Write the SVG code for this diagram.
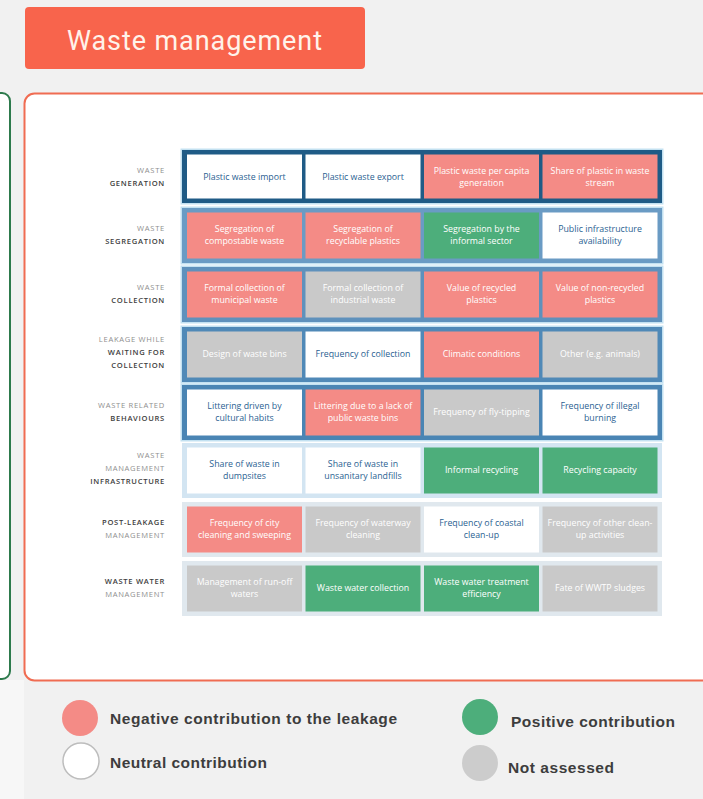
<svg xmlns="http://www.w3.org/2000/svg" width="703" height="799" viewBox="0 0 703 799">
<defs>
<style>
.ct{font-family:"Open Sans","Liberation Sans",sans-serif;font-size:8.8px;text-anchor:middle}
.tw{fill:#ffffff}
.tb{fill:#2b5f92}
.neg{fill:#f48b86}
.pos{fill:#4dae7b}
.na{fill:#c9c9c9}
.neu{fill:#ffffff}
.fd{fill:#1f5b86}
.halo{fill:#c3e1f1}
.lab{font-family:"Open Sans","Liberation Sans",sans-serif;font-size:7.6px;text-anchor:end;letter-spacing:0.7px}
.ll{fill:#8f8f8f}
.lb{fill:#3e3e3e;font-weight:600}
.leg{font-family:"Liberation Sans",Arial,sans-serif;font-size:15.5px;font-weight:bold;fill:#3d3d3d}
</style>
</defs>
<rect x="0" y="0" width="703" height="799" fill="#f1f1f1"/>
<rect x="0" y="680" width="24" height="119" fill="#f7f7f7"/>
<g id="title">
<rect x="25" y="7" width="340" height="62" rx="4" fill="#f8644c"/>
<text x="67" y="50" font-family="Roboto,'Liberation Sans',sans-serif" font-size="27" fill="#fff3ea" textLength="255">Waste management</text>
</g>
<g id="left-panel">
<rect x="-20" y="93" width="30" height="586" rx="8" fill="#ffffff" stroke="#2d7a4c" stroke-width="2"/>
</g>
<g id="panel">
<rect x="24.5" y="93.5" width="700" height="587" rx="10" fill="#ffffff" stroke="#f06c52" stroke-width="2"/>
</g>
<g id="connectors"/>
<!-- Row frames -->
<g id="frames">
<rect class="halo" x="180.5" y="148.5" width="483" height="56"/>
<rect class="fd" x="182" y="150" width="480" height="53"/>
<rect class="halo" x="180.5" y="206.5" width="483" height="58"/>
<rect x="182" y="208" width="480" height="55" fill="#6a9bc4"/>
<rect class="halo" x="180.5" y="265.5" width="483" height="58"/>
<rect x="182" y="267" width="480" height="55" fill="#5f91bc"/>
<rect class="halo" x="180.5" y="325.5" width="483" height="58"/>
<rect x="182" y="327" width="480" height="55" fill="#5089b7"/>
<rect class="halo" x="180.5" y="383.5" width="483" height="58"/>
<rect x="182" y="385" width="480" height="55" fill="#4a85b4"/>
<rect x="182" y="443" width="480" height="55" fill="#d3e5f2"/>
<rect x="182" y="502" width="480" height="55" fill="#e0e8ee"/>
<rect x="182" y="561" width="480" height="55" fill="#e0e8ee"/>
</g>
<!-- Row labels -->
<g id="label-generation"><text class="lab ll" x="165" y="172.5">WASTE</text><text class="lab lb" x="165" y="185.5">GENERATION</text></g>
<g id="label-segregation"><text class="lab ll" x="165" y="230.5">WASTE</text><text class="lab lb" x="165" y="243.5">SEGREGATION</text></g>
<g id="label-collection"><text class="lab ll" x="165" y="289.5">WASTE</text><text class="lab lb" x="165" y="302.5">COLLECTION</text></g>
<g id="label-waiting"><text class="lab ll" x="165" y="341.5">LEAKAGE WHILE</text><text class="lab lb" x="165" y="354.5">WAITING FOR</text><text class="lab lb" x="165" y="367.5">COLLECTION</text></g>
<g id="label-behaviours"><text class="lab ll" x="165" y="407.5">WASTE RELATED</text><text class="lab lb" x="165" y="420.5">BEHAVIOURS</text></g>
<g id="label-infrastructure"><text class="lab ll" x="165" y="457.5">WASTE</text><text class="lab ll" x="165" y="470.5">MANAGEMENT</text><text class="lab lb" x="165" y="483.5">INFRASTRUCTURE</text></g>
<g id="label-postleakage"><text class="lab lb" x="165" y="524.5">POST-LEAKAGE</text><text class="lab ll" x="165" y="537.5">MANAGEMENT</text></g>
<g id="label-wastewater"><text class="lab lb" x="165" y="583.5">WASTE WATER</text><text class="lab ll" x="165" y="596.5">MANAGEMENT</text></g>
<!-- Row 1 -->
<g id="c11"><rect class="neu" x="187" y="154.5" width="115" height="44"/><text class="ct tb" x="244.5" y="180">Plastic waste import</text></g>
<g id="c12"><rect class="neu" x="305.5" y="154.5" width="115" height="44"/><text class="ct tb" x="363" y="180">Plastic waste export</text></g>
<g id="c13"><rect class="neg" x="424" y="154.5" width="115" height="44"/><text class="ct tw" x="481.5" y="174">Plastic waste per capita</text><text class="ct tw" x="481.5" y="186">generation</text></g>
<g id="c14"><rect class="neg" x="542.5" y="154.5" width="115" height="44"/><text class="ct tw" x="600" y="174">Share of plastic in waste</text><text class="ct tw" x="600" y="186">stream</text></g>
<!-- Row 2 -->
<g id="c21"><rect class="neg" x="187" y="212.5" width="115" height="46"/><text class="ct tw" x="244.5" y="232">Segregation of</text><text class="ct tw" x="244.5" y="244">compostable waste</text></g>
<g id="c22"><rect class="neg" x="305.5" y="212.5" width="115" height="46"/><text class="ct tw" x="363" y="232">Segregation of</text><text class="ct tw" x="363" y="244">recyclable plastics</text></g>
<g id="c23"><rect class="pos" x="424" y="212.5" width="115" height="46"/><text class="ct tw" x="481.5" y="232">Segregation by the</text><text class="ct tw" x="481.5" y="244">informal sector</text></g>
<g id="c24"><rect class="neu" x="542.5" y="212.5" width="115" height="46"/><text class="ct tb" x="600" y="232">Public infrastructure</text><text class="ct tb" x="600" y="244">availability</text></g>
<!-- Row 3 -->
<g id="c31"><rect class="neg" x="187" y="271.5" width="115" height="46"/><text class="ct tw" x="244.5" y="291">Formal collection of</text><text class="ct tw" x="244.5" y="303">municipal waste</text></g>
<g id="c32"><rect class="na" x="305.5" y="271.5" width="115" height="46"/><text class="ct tw" x="363" y="291">Formal collection of</text><text class="ct tw" x="363" y="303">industrial waste</text></g>
<g id="c33"><rect class="neg" x="424" y="271.5" width="115" height="46"/><text class="ct tw" x="481.5" y="291">Value of recycled</text><text class="ct tw" x="481.5" y="303">plastics</text></g>
<g id="c34"><rect class="neg" x="542.5" y="271.5" width="115" height="46"/><text class="ct tw" x="600" y="291">Value of non-recycled</text><text class="ct tw" x="600" y="303">plastics</text></g>
<!-- Row 4 -->
<g id="c41"><rect class="na" x="187" y="331.5" width="115" height="46"/><text class="ct tw" x="244.5" y="357">Design of waste bins</text></g>
<g id="c42"><rect class="neu" x="305.5" y="331.5" width="115" height="46"/><text class="ct tb" x="363" y="357">Frequency of collection</text></g>
<g id="c43"><rect class="neg" x="424" y="331.5" width="115" height="46"/><text class="ct tw" x="481.5" y="357">Climatic conditions</text></g>
<g id="c44"><rect class="na" x="542.5" y="331.5" width="115" height="46"/><text class="ct tw" x="600" y="357">Other (e.g. animals)</text></g>
<!-- Row 5 -->
<g id="c51"><rect class="neu" x="187" y="389.5" width="115" height="46"/><text class="ct tb" x="244.5" y="409">Littering driven by</text><text class="ct tb" x="244.5" y="421">cultural habits</text></g>
<g id="c52"><rect class="neg" x="305.5" y="389.5" width="115" height="46"/><text class="ct tw" x="363" y="409">Littering due to a lack of</text><text class="ct tw" x="363" y="421">public waste bins</text></g>
<g id="c53"><rect class="na" x="424" y="389.5" width="115" height="46"/><text class="ct tw" x="481.5" y="415">Frequency of fly-tipping</text></g>
<g id="c54"><rect class="neu" x="542.5" y="389.5" width="115" height="46"/><text class="ct tb" x="600" y="409">Frequency of illegal</text><text class="ct tb" x="600" y="421">burning</text></g>
<!-- Row 6 -->
<g id="c61"><rect class="neu" x="187" y="447.5" width="115" height="46"/><text class="ct tb" x="244.5" y="467">Share of waste in</text><text class="ct tb" x="244.5" y="479">dumpsites</text></g>
<g id="c62"><rect class="neu" x="305.5" y="447.5" width="115" height="46"/><text class="ct tb" x="363" y="467">Share of waste in</text><text class="ct tb" x="363" y="479">unsanitary landfills</text></g>
<g id="c63"><rect class="pos" x="424" y="447.5" width="115" height="46"/><text class="ct tw" x="481.5" y="473">Informal recycling</text></g>
<g id="c64"><rect class="pos" x="542.5" y="447.5" width="115" height="46"/><text class="ct tw" x="600" y="473">Recycling capacity</text></g>
<!-- Row 7 -->
<g id="c71"><rect class="neg" x="187" y="506.5" width="115" height="46"/><text class="ct tw" x="244.5" y="526">Frequency of city</text><text class="ct tw" x="244.5" y="538">cleaning and sweeping</text></g>
<g id="c72"><rect class="na" x="305.5" y="506.5" width="115" height="46"/><text class="ct tw" x="363" y="526">Frequency of waterway</text><text class="ct tw" x="363" y="538">cleaning</text></g>
<g id="c73"><rect class="neu" x="424" y="506.5" width="115" height="46"/><text class="ct tb" x="481.5" y="526">Frequency of coastal</text><text class="ct tb" x="481.5" y="538">clean-up</text></g>
<g id="c74"><rect class="na" x="542.5" y="506.5" width="115" height="46"/><text class="ct tw" x="600" y="526">Frequency of other clean-</text><text class="ct tw" x="600" y="538">up activities</text></g>
<!-- Row 8 -->
<g id="c81"><rect class="na" x="187" y="565.5" width="115" height="46"/><text class="ct tw" x="244.5" y="585">Management of run-off</text><text class="ct tw" x="244.5" y="597">waters</text></g>
<g id="c82"><rect class="pos" x="305.5" y="565.5" width="115" height="46"/><text class="ct tw" x="363" y="591">Waste water collection</text></g>
<g id="c83"><rect class="pos" x="424" y="565.5" width="115" height="46"/><text class="ct tw" x="481.5" y="585">Waste water treatment</text><text class="ct tw" x="481.5" y="597">efficiency</text></g>
<g id="c84"><rect class="na" x="542.5" y="565.5" width="115" height="46"/><text class="ct tw" x="600" y="591">Fate of WWTP sludges</text></g>
<!-- Legend -->
<g id="legend-negative"><circle cx="80" cy="718" r="18" class="neg"/><text class="leg" x="110" y="724" textLength="287">Negative contribution to the leakage</text></g>
<g id="legend-neutral"><circle cx="81" cy="761" r="18" fill="#ffffff" stroke="#bdbdbd" stroke-width="1.5"/><text class="leg" x="110" y="768" textLength="157">Neutral contribution</text></g>
<g id="legend-positive"><circle cx="480" cy="717" r="18" class="pos"/><text class="leg" x="511" y="727" textLength="164">Positive contribution</text></g>
<g id="legend-na"><circle cx="480" cy="763" r="18" fill="#cccccc"/><text class="leg" x="508" y="773" textLength="106">Not assessed</text></g>
</svg>
